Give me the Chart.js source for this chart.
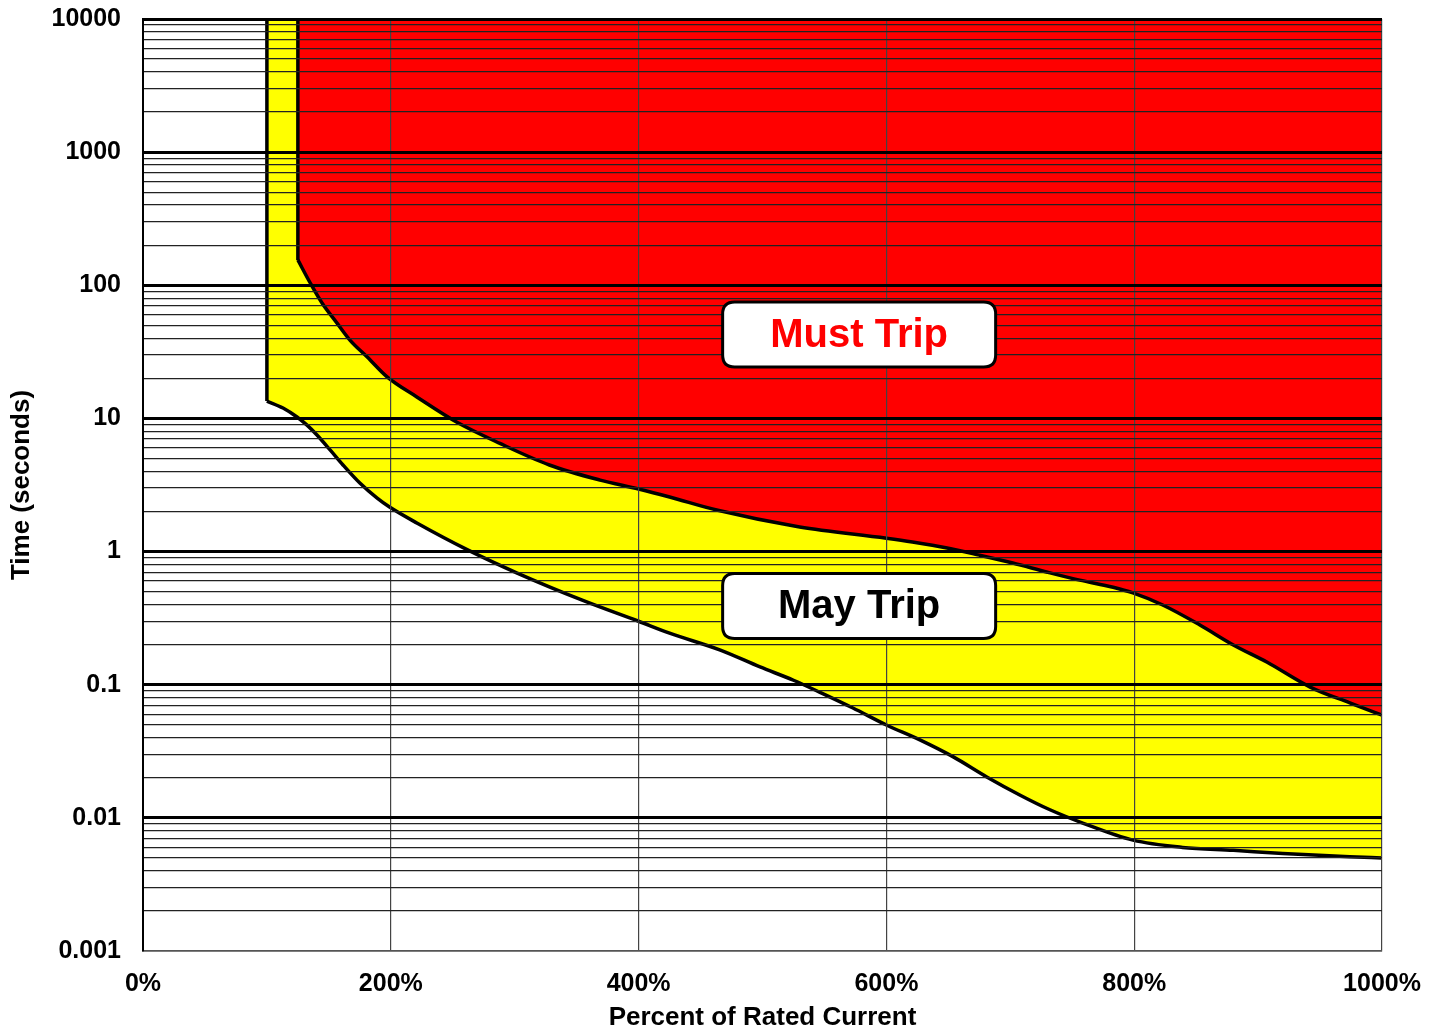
<!DOCTYPE html>
<html>
<head>
<meta charset="utf-8">
<script src="https://cdn.jsdelivr.net/npm/chart.js@4.4.0/dist/chart.umd.min.js"></script>
<style>
  html, body { margin: 0; padding: 0; background: #fff; }
  #wrap { width: 1440px; height: 1031px; }
</style>
</head>
<body>
<div id="wrap"><canvas id="tripChart"></canvas></div>
<script>
// both curves rise vertically to the top of the chart from their first point
var yTop = 10000;

// upper boundary: must trip (percent of rated current / seconds)
var mustTripX = [125, 135, 144.5, 156.6, 167, 181, 197, 221, 253, 288, 328, 369, 400, 425, 463, 530, 600, 621, 649, 675, 702, 730, 756, 783, 799, 823, 853, 880, 907, 942, 974, 1000];
var mustTripY = [155, 104, 73.6, 52, 38.8, 28.9, 20.5, 14.5, 9.4, 6.5, 4.47, 3.44, 2.95, 2.57, 2.05, 1.53, 1.26, 1.18, 1.064, 0.94, 0.82, 0.70, 0.61, 0.54, 0.489, 0.397, 0.281, 0.199, 0.148, 0.096, 0.073, 0.059];

// lower boundary: may trip
var mayTripX = [100, 113, 124.3, 132.4, 140.4, 151, 161.4, 175, 189, 199, 221, 262, 302, 355, 399.5, 425, 466, 498, 525, 546, 573, 600, 627, 654, 681, 708, 732, 759, 799, 839, 880, 920, 974, 1000];
var mayTripY = [13.5, 11.97, 10.25, 8.9, 7.5, 5.8, 4.47, 3.27, 2.52, 2.16, 1.64, 1.03, 0.69, 0.43, 0.301, 0.244, 0.182, 0.136, 0.108, 0.088, 0.0668, 0.0498, 0.0385, 0.0287, 0.0203, 0.0148, 0.0115, 0.0091, 0.0068, 0.006, 0.0057, 0.0054, 0.0051, 0.005];

var xTicks = [0, 200, 400, 600, 800, 1000];
var yDecades = [0.001, 0.01, 0.1, 1, 10, 100, 1000, 10000];
var yDecadeLabels = ['0.001', '0.01', '0.1', '1', '10', '100', '1000', '10000'];

var FONT = '"Liberation Sans", Arial, sans-serif';

function toPoints(xs, ys) {
  var pts = [];
  for (var i in xs) {
    pts.push({x: xs[i], y: ys[i]});
  }
  return pts;
}

// gridline positions: 1..9 times each decade
var yGrid = [];
for (var d = 0; d < yDecades.length; d++) {
  var lim = (d == yDecades.length - 1) ? 1 : 9;
  for (var m = 1; m <= lim; m++) {
    yGrid.push(Number((m * yDecades[d]).toPrecision(3)));
  }
}

function decadeIndex(v) {
  for (var i = 0; i < yDecades.length; i++) {
    if (Math.abs(v - yDecades[i]) < yDecades[i] * 1e-6) return i;
  }
  return -1;
}

var boxLabels = {
  id: 'boxLabels',
  afterDraw: function(chart) {
    var ctx = chart.ctx;
    var xs = chart.scales.x, ys = chart.scales.y;
    var items = [
      {text: 'Must Trip', color: '#ff0000', x: 578, y: 42.7},
      {text: 'May Trip', color: '#000000', x: 578, y: 0.39}
    ];
    var w = 273, h = 65, r = 12;
    items.forEach(function(it) {
      var cx = xs.getPixelForValue(it.x);
      var cy = ys.getPixelForValue(it.y);
      var x0 = cx - w / 2, y0 = cy - h / 2;
      ctx.save();
      ctx.beginPath();
      ctx.moveTo(x0 + r, y0);
      ctx.lineTo(x0 + w - r, y0);
      ctx.quadraticCurveTo(x0 + w, y0, x0 + w, y0 + r);
      ctx.lineTo(x0 + w, y0 + h - r);
      ctx.quadraticCurveTo(x0 + w, y0 + h, x0 + w - r, y0 + h);
      ctx.lineTo(x0 + r, y0 + h);
      ctx.quadraticCurveTo(x0, y0 + h, x0, y0 + h - r);
      ctx.lineTo(x0, y0 + r);
      ctx.quadraticCurveTo(x0, y0, x0 + r, y0);
      ctx.closePath();
      ctx.fillStyle = '#fff';
      ctx.fill();
      ctx.lineWidth = 3;
      ctx.strokeStyle = '#000';
      ctx.stroke();
      ctx.fillStyle = it.color;
      ctx.font = 'bold 40px ' + FONT;
      ctx.textAlign = 'center';
      ctx.textBaseline = 'middle';
      ctx.fillText(it.text, cx, cy + 1);
      ctx.restore();
    });
  }
};

function vertLine(xs, ys) {
  return {
    data: [{x: xs[0], y: yTop}, {x: xs[0], y: ys[0]}],
    borderColor: '#000',
    borderWidth: 3.5,
    fill: false,
    pointRadius: 0,
    tension: 0
  };
}

const tripCanvas = document.getElementById('tripChart');

let tripChart = new Chart(tripCanvas, {
  type: 'line',
  data: {
    datasets: [
      vertLine(mustTripX, mustTripY),
      vertLine(mayTripX, mayTripY),
      {
        label: 'Must Trip',
        data: toPoints(mustTripX, mustTripY),
        borderColor: '#000',
        borderWidth: 3.5,
        backgroundColor: '#ff0000',
        fill: 'end',
        pointRadius: 0,
        cubicInterpolationMode: 'monotone'
      },
      {
        label: 'May Trip',
        data: toPoints(mayTripX, mayTripY),
        borderColor: '#000',
        borderWidth: 3.5,
        backgroundColor: '#ffff00',
        fill: 'end',
        pointRadius: 0,
        cubicInterpolationMode: 'monotone'
      }
    ]
  },
  options: {
    responsive: true,
    maintainAspectRatio: false,
    animation: false,
    layout: { padding: { top: 19, right: 58, bottom: 0, left: 0 } },
    plugins: {
      legend: { display: false },
      tooltip: { enabled: false }
    },
    scales: {
      x: {
        type: 'linear',
        min: 0,
        max: 1000,
        afterBuildTicks: function(axis) {
          axis.ticks = xTicks.map(function(v) { return {value: v}; });
        },
        afterFit: function(axis) { axis.height = 80; },
        ticks: {
          autoSkip: false,
          maxRotation: 0,
          padding: 18,
          color: '#000',
          font: { family: FONT, size: 25, weight: 'bold' },
          callback: function(v) { return v + '%'; }
        },
        grid: { z: 1, color: '#444', lineWidth: 1.2, drawTicks: false },
        border: { z: 1, display: true, color: '#555', width: 1.5 },
        title: {
          display: true,
          text: 'Percent of Rated Current',
          color: '#000',
          font: { family: FONT, size: 26, weight: 'bold', lineHeight: 1 },
          padding: { top: 0, bottom: 0 }
        }
      },
      y: {
        type: 'logarithmic',
        min: 0.001,
        max: yTop,
        afterBuildTicks: function(axis) {
          axis.ticks = yGrid.map(function(v) { return {value: v}; });
        },
        afterFit: function(axis) {
          axis.width = 143;
          axis.paddingTop = 0;
          axis.paddingBottom = 0;
        },
        ticks: {
          autoSkip: false,
          padding: 22,
          color: '#000',
          font: { family: FONT, size: 25, weight: 'bold' },
          callback: function(v) {
            var i = decadeIndex(v);
            return i >= 0 ? yDecadeLabels[i] : '';
          }
        },
        grid: {
          z: 1,
          drawTicks: false,
          color: function(c) {
            var v = c.tick ? c.tick.value : 1.5;
            if (Math.abs(v - 0.001) < 1e-9) return '#555';
            return decadeIndex(v) >= 0 ? '#000' : '#222';
          },
          lineWidth: function(c) {
            var v = c.tick ? c.tick.value : 1.5;
            if (Math.abs(v - 0.001) < 1e-9) return 1.5;
            return decadeIndex(v) >= 0 ? 3 : 1.3;
          }
        },
        border: { z: 1, display: true, color: '#000', width: 2 },
        title: {
          display: true,
          text: 'Time (seconds)',
          color: '#000',
          font: { family: FONT, size: 26, weight: 'bold', lineHeight: 1 },
          padding: { top: 9, bottom: 0 }
        }
      }
    }
  },
  plugins: [boxLabels]
});
</script>
</body>
</html>
